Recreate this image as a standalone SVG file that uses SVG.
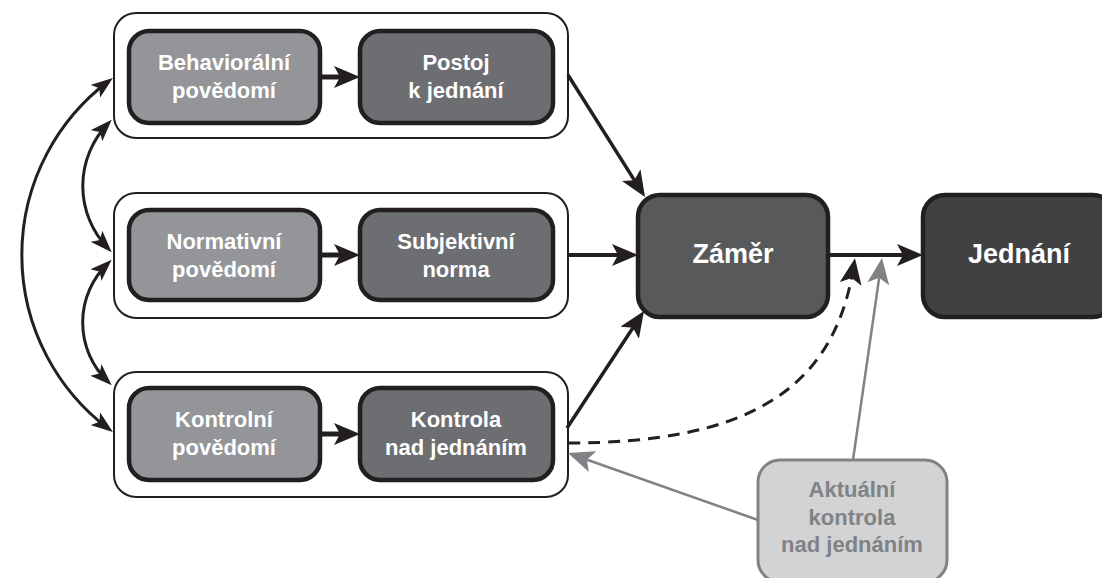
<svg xmlns="http://www.w3.org/2000/svg" width="1102" height="578" viewBox="0 0 1102 578">
  <style>
    .group { fill: #ffffff; stroke: #231f20; stroke-width: 2; }
    .box { stroke: #231f20; stroke-width: 4.5; }
    .light { fill: #939598; }
    .mid { fill: #6d6e71; }
    .dark { fill: #58595b; }
    .darker { fill: #414042; }
    .actual { fill: #d1d3d4; stroke: #808285; stroke-width: 3; }
    text { font-family: "Liberation Sans", Arial, sans-serif; font-weight: bold; text-anchor: middle; }
    .lbl { font-size: 22px; fill: #ffffff; }
    .big { font-size: 27px; fill: #ffffff; }
    .grey { font-size: 22px; fill: #808285; }
    .conn { fill: none; stroke: #231f20; }
    .gconn { fill: none; stroke: #808285; stroke-width: 2.5; }
  </style>
  <defs>
    <marker id="ah" markerUnits="userSpaceOnUse" markerWidth="26" markerHeight="22" viewBox="0 0 26 22" refX="14" refY="11" orient="auto-start-reverse">
      <path d="M0,0 L26,11 L0,22 L6,11 z" fill="#231f20"/>
    </marker>
    <marker id="ahg" markerUnits="userSpaceOnUse" markerWidth="26" markerHeight="22" viewBox="0 0 26 22" refX="14" refY="11" orient="auto">
      <path d="M0,0 L26,11 L0,22 L6,11 z" fill="#808285"/>
    </marker>
    <marker id="ahs" markerUnits="userSpaceOnUse" markerWidth="22" markerHeight="16" viewBox="0 0 22 16" refX="16" refY="8" orient="auto-start-reverse">
      <path d="M0,0 L22,8 L0,16 L5,8 z" fill="#231f20"/>
    </marker>
  </defs>

  <!-- belief groups -->
  <g id="group-behavioral">
    <rect class="group" x="114" y="13" width="454" height="125" rx="22"/>
  </g>
  <g id="group-normative">
    <rect class="group" x="114" y="193" width="454" height="125" rx="22"/>
  </g>
  <g id="group-control">
    <rect class="group" x="114" y="372" width="454" height="125" rx="22"/>
  </g>

  <g id="behavioral-beliefs">
    <rect class="box light" x="129" y="31" width="191" height="92" rx="20"/>
    <text class="lbl" x="224" y="70">Behaviorální</text>
    <text class="lbl" x="224" y="98">povědomí</text>
  </g>
  <g id="attitude">
    <rect class="box mid" x="360" y="31" width="193" height="92" rx="20"/>
    <text class="lbl" x="456" y="70">Postoj</text>
    <text class="lbl" x="456" y="98">k jednání</text>
  </g>

  <g id="normative-beliefs">
    <rect class="box light" x="129" y="210" width="191" height="90" rx="20"/>
    <text class="lbl" x="224" y="249">Normativní</text>
    <text class="lbl" x="224" y="277">povědomí</text>
  </g>
  <g id="subjective-norm">
    <rect class="box mid" x="360" y="210" width="193" height="90" rx="20"/>
    <text class="lbl" x="456" y="249">Subjektivní</text>
    <text class="lbl" x="456" y="277">norma</text>
  </g>

  <g id="control-beliefs">
    <rect class="box light" x="129" y="388" width="191" height="92" rx="20"/>
    <text class="lbl" x="224" y="427">Kontrolní</text>
    <text class="lbl" x="224" y="455">povědomí</text>
  </g>
  <g id="perceived-control">
    <rect class="box mid" x="360" y="388" width="193" height="92" rx="20"/>
    <text class="lbl" x="456" y="427">Kontrola</text>
    <text class="lbl" x="456" y="455">nad jednáním</text>
  </g>

  <g id="intention">
    <rect class="box dark" x="638" y="195" width="190" height="122" rx="22"/>
    <text class="big" x="733" y="263">Záměr</text>
  </g>
  <g id="behavior">
    <rect class="box darker" x="923" y="195" width="192" height="122" rx="22"/>
    <text class="big" x="1019" y="263">Jednání</text>
  </g>

  <g id="actual-control">
    <rect class="actual" x="758" y="460" width="189" height="122" rx="22"/>
    <text class="grey" x="852" y="497">Aktuální</text>
    <text class="grey" x="852" y="525">kontrola</text>
    <text class="grey" x="852" y="552">nad jednáním</text>
  </g>

  <g id="connectors">
    <!-- beliefs to their constructs -->
    <path class="conn" stroke-width="5" d="M320,77 L348,77" marker-end="url(#ah)"/>
    <path class="conn" stroke-width="5" d="M320,255 L348,255" marker-end="url(#ah)"/>
    <path class="conn" stroke-width="5" d="M320,434 L348,434" marker-end="url(#ah)"/>

    <!-- constructs to intention -->
    <path class="conn" stroke-width="3.5" d="M568,75 L638.6,186.9" marker-end="url(#ah)"/>
    <path class="conn" stroke-width="4" d="M568,255 L626,255" marker-end="url(#ah)"/>
    <path class="conn" stroke-width="3.5" d="M567,428 L637.4,321" marker-end="url(#ah)"/>

    <!-- intention to behavior -->
    <path class="conn" stroke-width="4" d="M828,255 L911,255" marker-end="url(#ah)"/>

    <!-- perceived control directly to behavior -->
    <path class="conn" stroke-width="3" stroke-dasharray="12 8" d="M568,443 C740,443 832,395 853,270" marker-end="url(#ah)"/>

    <!-- actual control -->
    <path class="gconn" d="M853,460 L880.3,269.9" marker-end="url(#ahg)"/>
    <path class="gconn" d="M758,520 L579.3,457" marker-end="url(#ahg)"/>

    <!-- correlations between beliefs -->
    <path class="conn" stroke-width="3" d="M108.1,81.5 A217.6,217.6 0 0 0 108.1,428.5" marker-start="url(#ahs)" marker-end="url(#ahs)"/>
    <path class="conn" stroke-width="3" d="M107.6,124.1 A89.6,89.6 0 0 0 107.6,247.9" marker-start="url(#ahs)" marker-end="url(#ahs)"/>
    <path class="conn" stroke-width="3" d="M107.4,263.9 A81.8,81.8 0 0 0 107.4,381.1" marker-start="url(#ahs)" marker-end="url(#ahs)"/>
  </g>
</svg>
